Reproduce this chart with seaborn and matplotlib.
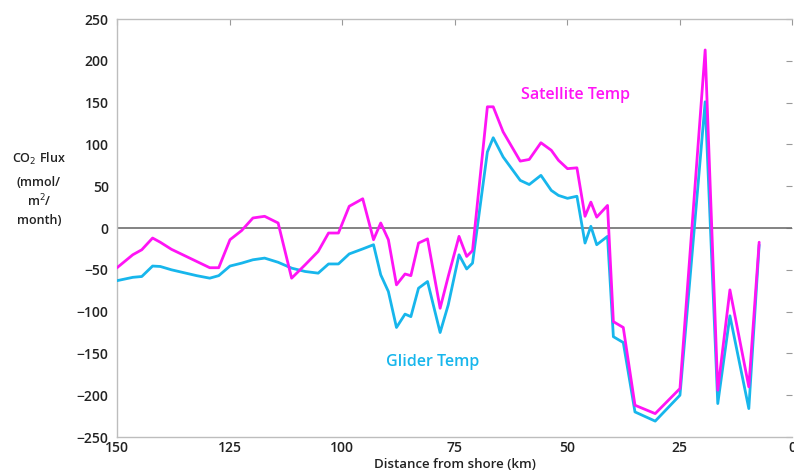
import matplotlib
matplotlib.use("Agg")
import matplotlib.pyplot as plt
import seaborn as sns
import pandas as pd

distance_km = [150, 146.5, 144.5, 142.1, 140.4, 137.9, 132.3, 129.4, 127.4, 124.9,
               122.3, 119.8, 117.2, 114.2, 111.2, 108.2, 105.3, 103, 100.8, 98.4,
               95.4, 93, 91.4, 89.7, 87.9, 86, 84.7, 83, 81, 78.2,
               76.4, 74, 72.3, 71, 67.7, 66.4, 64.2, 60.4, 58.4, 55.8,
               53.5, 51.9, 49.9, 47.8, 46, 44.7, 43.4, 41, 39.7, 37.5,
               34.9, 30.4, 24.9, 19.3, 16.5, 13.8, 9.6, 7.3]

satellite_temp = [-47.5, -32, -26, -12, -17, -25.5, -40, -47.5, -47.5, -14,
                  -3, 12, 14, 6, -60, -44, -28, -6, -6, 26,
                  35, -14, 6, -14, -68, -55, -57, -18, -13, -96,
                  -58, -10, -34, -27, 145, 145, 115, 80, 82, 102,
                  93, 81, 71, 72, 14, 31, 13, 27, -112, -119,
                  -212, -222, -192, 213, -194, -74, -190, -17]

glider_temp = [-63, -59, -58, -45.5, -46, -50, -57, -60, -57, -45.5,
               -42, -38, -36, -41, -48, -52, -54, -43, -43, -31,
               -25, -20, -56, -76, -119, -103, -106, -72, -64, -125,
               -92, -32, -49, -42, 91, 108, 85, 57, 52, 63,
               45, 39, 35.5, 38, -18, 2, -20, -10, -130, -137,
               -220, -231, -200, 151, -210, -105, -216, -20]

x_ticks = [150, 125, 100, 75, 50, 25, 0]
y_ticks = [-250, -200, -150, -100, -50, 0, 50, 100, 150, 200, 250]
ylabel_lines = ['CO$_2$ Flux', '(mmol/', 'm$^2$/', 'month)']

sns.set_style("white")
plt.rcParams['font.family'] = ['Open Sans', 'DejaVu Sans']

magenta = '#ff14f5'
cyan = '#17b6ec'

df = pd.DataFrame({
    'distance': distance_km * 2,
    'flux': satellite_temp + glider_temp,
    'series': ['Satellite Temp'] * len(distance_km) + ['Glider Temp'] * len(distance_km),
})

fig = plt.figure(figsize=(7.94, 4.73), dpi=100)
ax = fig.add_axes([0.1474, 0.0761, 0.8501, 0.8837])

ax.axhline(0, color='#6e6e6e', lw=1.2, zorder=1)
sns.lineplot(data=df, x='distance', y='flux', hue='series', sort=False,
             palette={'Satellite Temp': magenta, 'Glider Temp': cyan},
             hue_order=['Glider Temp', 'Satellite Temp'],
             lw=2.0, legend=False, ax=ax, zorder=3)

ax.set_xlim(150, 0)
ax.set_ylim(-250, 250)
ax.set_xticks(x_ticks)
ax.set_yticks(y_ticks)
ax.tick_params(direction='in', length=4, color='#999999', labelsize=10,
               labelcolor='#222222', top=True, right=True)
ax.tick_params(axis='x', pad=3)
ax.tick_params(axis='y', pad=6)
for lab in ax.get_xticklabels() + ax.get_yticklabels():
    lab.set_fontweight('semibold')

for side in ['left', 'bottom', 'top']:
    ax.spines[side].set_color('#bdbdbd')
    ax.spines[side].set_linewidth(1.0)
ax.spines['right'].set_visible(False)

ax.set_xlabel('Distance from shore (km)', fontsize=9.5, fontweight='semibold',
              color='#222222', labelpad=2)
ax.set_ylabel('')
ylabel_y = [0.663, 0.615, 0.576, 0.534]
for txt, yy in zip(ylabel_lines, ylabel_y):
    fig.text(0.049, yy, txt, ha='center', va='center',
             fontsize=9, fontweight='semibold', color='#222222')

ax.text(48, 159, 'Satellite Temp', color=magenta, fontsize=11.5,
        fontweight='semibold', ha='center', va='center')
ax.text(79.8, -160, 'Glider Temp', color=cyan, fontsize=11.5,
        fontweight='semibold', ha='center', va='center')

fig.savefig('out.png', dpi=100)
